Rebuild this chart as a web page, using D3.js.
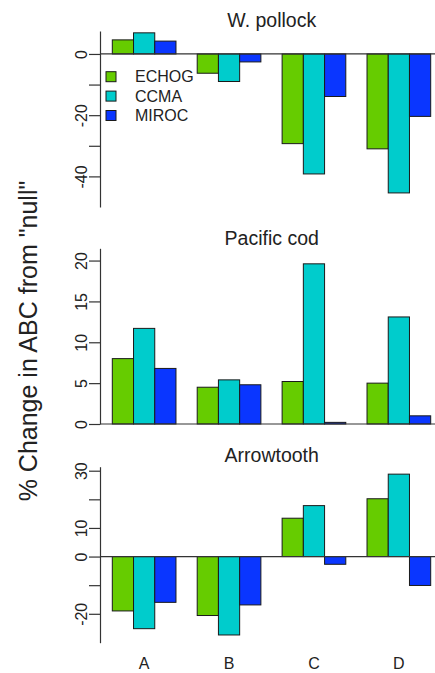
<!DOCTYPE html>
<html>
<head>
<meta charset="utf-8">
<script src="https://cdn.jsdelivr.net/npm/d3@7"></script>
<style>
  body { margin: 0; background: #fff; }
  svg { display: block; font-family: "Liberation Sans", Arial, Helvetica, sans-serif; }
</style>
</head>
<body>
<div id="myVis"></div>
<script>
// bar groups and the three climate models
var categories = ["A", "B", "C", "D"];
var models = ["ECHOG", "CCMA", "MIROC"];
var colors = ["#66cc00", "#00cccc", "#0a36ff"];

// % change in ABC, one row per model (ECHOG, CCMA, MIROC), values for A..D
var pollock = [
  [4.6, -6.3, -29.3, -31.0],
  [6.9, -9.0, -39.2, -45.4],
  [4.2, -2.6, -13.9, -20.4]
];
var cod = [
  [8.0, 4.5, 5.2, 5.0],
  [11.7, 5.4, 19.6, 13.1],
  [6.8, 4.8, 0.2, 1.0]
];
var arrowtooth = [
  [-19.0, -20.6, 13.4, 20.2],
  [-25.2, -27.4, 17.8, 28.8],
  [-16.0, -16.9, -2.7, -10.1]
];

// tick marks and which of them carry a label
var pollockTicks = [0, -10, -20, -30, -40];
var pollockLabels = [0, -20, -40];
var codTicks = [0, 5, 10, 15, 20];
var codLabels = [0, 5, 10, 15, 20];
var arrowTicks = [30, 20, 10, 0, -10, -20];
var arrowLabels = [30, 10, 0, -20];

var width = 435;
var height = 673;
var axisX = 100;

var svg = d3
  .select("#myVis")
  .append("svg")
  .attr("width", width)
  .attr("height", height);

var x0 = d3.scaleBand().domain(categories).range([112.3, 430.7]).paddingInner(0.25);
var x1 = d3.scaleBand().domain(models).range([0, x0.bandwidth()]);

var panels = [
  { title: "W. pollock", data: pollock, domain: [-50, 7.5], range: [207, 31], titleY: 26.5,
    ticks: pollockTicks, labels: pollockLabels },
  { title: "Pacific cod", data: cod, domain: [0, 21.5], range: [424, 248.3], titleY: 244.5,
    ticks: codTicks, labels: codLabels },
  { title: "Arrowtooth", data: arrowtooth, domain: [-30.1, 31.4], range: [642.7, 466.7], titleY: 461.5,
    ticks: arrowTicks, labels: arrowLabels }
];

panels.forEach(function (p) {
  var y = d3.scaleLinear().domain(p.domain).range(p.range);
  var g = svg.append("g");

  // bars
  models.forEach(function (m, mi) {
    g.selectAll(null)
      .data(p.data[mi].map(function (v, i) { return { cat: categories[i], v: v }; }))
      .enter()
      .append("rect")
      .attr("x", function (d) { return x0(d.cat) + x1(m); })
      .attr("width", x1.bandwidth())
      .attr("y", function (d) { return Math.min(y(d.v), y(0)); })
      .attr("height", function (d) { return Math.abs(y(d.v) - y(0)); })
      .attr("fill", colors[mi])
      .attr("stroke", "#1a1a1a")
      .attr("stroke-width", 1);
  });

  // zero line
  g.append("line")
    .attr("x1", axisX)
    .attr("x2", width)
    .attr("y1", y(0))
    .attr("y2", y(0))
    .attr("stroke", "#333")
    .attr("stroke-width", 1.2);

  // y axis
  var ax = g.append("g")
    .attr("transform", "translate(" + axisX + ",0)")
    .call(
      d3.axisLeft(y)
        .tickValues(p.ticks)
        .tickSize(11)
        .tickSizeOuter(0)
        .tickFormat(function (d) { return p.labels.indexOf(d) >= 0 ? String(d) : ""; })
    );
  ax.select(".domain").attr("stroke", "#333").attr("stroke-width", 1.2);
  ax.selectAll(".tick line").attr("stroke", "#333").attr("stroke-width", 1.2);
  ax.selectAll(".tick text")
    .attr("x", 0)
    .attr("y", 0)
    .attr("dy", 0)
    .attr("text-anchor", "middle")
    .attr("transform", "translate(-13,0) rotate(-90)")
    .attr("fill", "#222")
    .style("font-size", "16px")
    .style("font-family", "Liberation Sans, Arial, sans-serif");

  // title
  g.append("text")
    .attr("x", (axisX + 443.5) / 2)
    .attr("y", p.titleY)
    .attr("text-anchor", "middle")
    .attr("fill", "#222")
    .style("font-size", "19.5px")
    .text(p.title);
});

// legend in the top panel
var legend = svg.append("g");
models.forEach(function (m, i) {
  var cy = 76.7 + i * 19.4;
  legend.append("rect")
    .attr("x", 106)
    .attr("y", cy - 5)
    .attr("width", 10)
    .attr("height", 10)
    .attr("fill", colors[i])
    .attr("stroke", "#1a1a1a");
  legend.append("text")
    .attr("x", 135)
    .attr("y", cy)
    .attr("dy", "0.36em")
    .attr("fill", "#222")
    .style("font-size", "16px")
    .text(m);
});

// category labels under the bottom panel
svg.selectAll(".cat")
  .data(categories)
  .enter()
  .append("text")
  .attr("class", "cat")
  .attr("x", function (d) { return x0(d) + x0.bandwidth() / 2; })
  .attr("y", 669)
  .attr("text-anchor", "middle")
  .attr("fill", "#222")
  .style("font-size", "16px")
  .text(function (d) { return d; });

// shared y label
svg.append("text")
  .attr("transform", "translate(37,341) rotate(-90)")
  .attr("text-anchor", "middle")
  .attr("fill", "#222")
  .style("font-size", "25px")
  .text('% Change in ABC from "null"');
</script>
</body>
</html>
